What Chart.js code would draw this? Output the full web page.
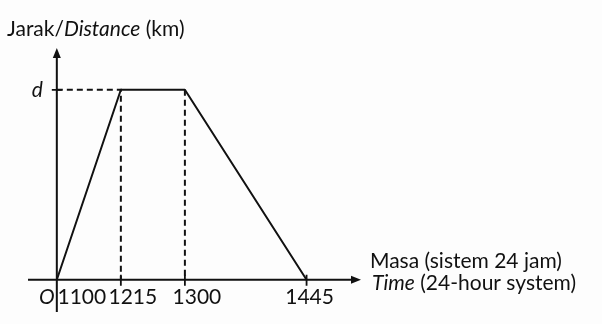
<!DOCTYPE html>
<html>
<head>
    <title>Jarak / Distance - Masa / Time</title>
    <style>
        body { margin: 0; background: #fdfdfd; }
        canvas { display: block; }
    </style>
    <script src="https://cdn.jsdelivr.net/npm/chart.js@4/dist/chart.umd.min.js"></script>
</head>
<body>
    <canvas id="chartCanvas" width="602" height="324"></canvas>

    <script>
        // Zeitachse (nicht maßstabsgetreu gezeichnet, wie im Original)
        const timeLabels = ['1100', '1215', '1300', '1445'];
        const timePos = [0, 1, 2, 3.9];
        // Entfernung in Einheiten von d
        const distance = [0, 1, 1, 0];
        const distLabel = 'd';

        const yTitle = ['Jarak/', 'Distance', ' (km)'];
        const xTitle = ['Masa (sistem 24 jam)', 'Time', ' (24-hour system)'];

        const ink = '#111111';
        const font = 'Lato, "Open Sans", sans-serif';

        const trip = timePos.map((t, i) => ({ x: t, y: distance[i] }));
        // gestrichelte Hilfslinien zu d und zu den Zeiten 1215, 1300
        const guideA = [{ x: 0, y: distance[1] }, { x: timePos[1], y: distance[1] }, { x: timePos[1], y: 0 }];
        const guideB = [{ x: timePos[2], y: distance[2] }, { x: timePos[2], y: 0 }];

        function arrow(ctx, x, y, dir) {
            ctx.beginPath();
            if (dir === 'up') {
                ctx.moveTo(x, y);
                ctx.lineTo(x - 4, y + 10);
                ctx.lineTo(x + 4, y + 10);
            } else {
                ctx.moveTo(x, y);
                ctx.lineTo(x - 10, y - 4);
                ctx.lineTo(x - 10, y + 4);
            }
            ctx.closePath();
            ctx.fill();
        }

        const axesPlugin = {
            id: 'axes',
            afterDraw(chart) {
                const ctx = chart.ctx;
                const xs = chart.scales.x, ys = chart.scales.y;
                const x0 = xs.getPixelForValue(0), y0 = ys.getPixelForValue(0);
                const area = chart.chartArea;

                ctx.save();
                ctx.strokeStyle = ink;
                ctx.fillStyle = ink;
                ctx.lineWidth = 2;

                // Achsen
                ctx.beginPath();
                ctx.moveTo(x0, area.bottom);
                ctx.lineTo(x0, area.top + 4);
                ctx.moveTo(area.left, y0);
                ctx.lineTo(area.right - 4, y0);
                ctx.stroke();
                arrow(ctx, x0, area.top, 'up');
                arrow(ctx, area.right, y0, 'right');

                // Striche
                ctx.lineWidth = 1.8;
                ctx.beginPath();
                const yd = ys.getPixelForValue(distance[1]);
                ctx.moveTo(x0 - 5, yd);
                ctx.lineTo(x0 + 5, yd);
                timePos.slice(1).forEach(t => {
                    const px = xs.getPixelForValue(t);
                    ctx.moveTo(px, y0 - 5);
                    ctx.lineTo(px, y0 + 6);
                });
                ctx.stroke();

                // Beschriftung der Zeiten
                ctx.textBaseline = 'alphabetic';
                ctx.textAlign = 'center';
                ctx.font = '21px ' + font;
                const shift = [25, 12, 12, 3];
                timePos.forEach((t, i) => {
                    ctx.fillText(timeLabels[i], xs.getPixelForValue(t) + shift[i], y0 + 24);
                });
                ctx.font = 'italic 21px ' + font;
                ctx.fillText('O', x0 - 10, y0 + 24);

                ctx.textAlign = 'right';
                ctx.font = 'italic 21px ' + font;
                ctx.fillText(distLabel, x0 - 14, yd + 7);

                // Titel der y-Achse
                ctx.textAlign = 'left';
                let tx = 7;
                yTitle.forEach((s, i) => {
                    ctx.font = (i === 1 ? 'italic ' : '') + '21px ' + font;
                    ctx.fillText(s, tx, 36);
                    tx += ctx.measureText(s).width;
                });

                // Titel der x-Achse
                ctx.font = '21px ' + font;
                ctx.fillText(xTitle[0], 370, 268);
                tx = 372;
                ctx.font = 'italic 21px ' + font;
                ctx.fillText(xTitle[1], tx, 290);
                tx += ctx.measureText(xTitle[1]).width;
                ctx.font = '21px ' + font;
                ctx.fillText(xTitle[2], tx, 290);

                ctx.restore();
            }
        };

        const chart = new Chart(document.getElementById('chartCanvas').getContext('2d'), {
            type: 'line',
            data: {
                datasets: [{
                    data: trip,
                    borderColor: ink,
                    borderWidth: 2,
                    borderJoinStyle: 'round',
                    pointRadius: 0,
                    tension: 0
                }, {
                    data: guideA,
                    borderColor: ink,
                    borderWidth: 2,
                    borderDash: [6, 4],
                    pointRadius: 0
                }, {
                    data: guideB,
                    borderColor: ink,
                    borderWidth: 2,
                    borderDash: [6, 4],
                    pointRadius: 0
                }]
            },
            options: {
                responsive: false,
                animation: false,
                layout: {
                    padding: { left: 28, right: 241, top: 48, bottom: 12 }
                },
                scales: {
                    x: { type: 'linear', min: -0.45, max: 4.75, display: false },
                    y: { type: 'linear', min: -0.17, max: 1.22, display: false }
                },
                plugins: {
                    legend: { display: false },
                    tooltip: { enabled: false }
                }
            },
            plugins: [axesPlugin]
        });
    </script>
</body>
</html>
